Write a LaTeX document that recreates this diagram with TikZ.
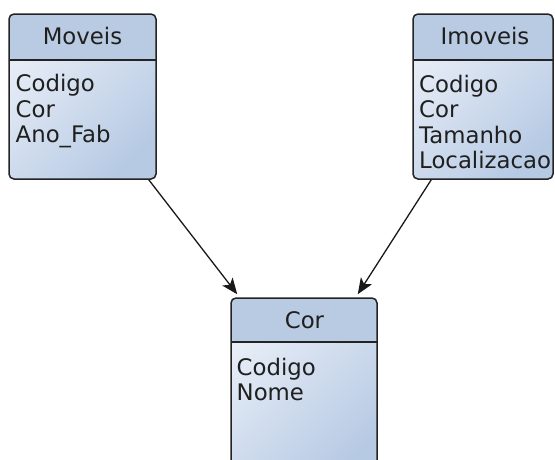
\documentclass[tikz,border=0pt]{standalone}
\usepackage{fontspec}
\setmainfont{DejaVu Sans}
\usetikzlibrary{arrows.meta,calc}

\definecolor{hdrblue}{RGB}{185,203,227}
\definecolor{bodylight}{RGB}{232,238,247}
\definecolor{bodydark}{RGB}{183,202,228}
\definecolor{edge}{RGB}{35,35,35}

\tikzset{
  classbox/.style={
    draw=edge, line width=1.5pt, rounded corners=5pt, inner sep=0pt,
    shading=axis, top color=bodylight, bottom color=bodydark, shading angle=45,
    path picture={
      \fill[hdrblue] (path picture bounding box.north west)
        rectangle ($(path picture bounding box.north east)+(0pt,-#1)$);
      \draw[edge, line width=1.5pt]
        ($(path picture bounding box.north west)+(0pt,-#1)$)
        -- ($(path picture bounding box.north east)+(0pt,-#1)$);
    }
  },
  classname/.style={anchor=base, inner sep=0pt, text=black!88},
  attr/.style={anchor=base west, inner sep=0pt, text=black!88},
  assoc/.style={draw=black!90, line width=1.3pt, -{Stealth[length=16pt, width=13pt, inset=4pt]}}
}

\begin{document}
\begin{tikzpicture}[x=1pt, y=-1pt, font=\fontsize{22.8}{25}\selectfont]
  \useasboundingbox (0,0) rectangle (555,459);
  \clip (0,0) rectangle (555,459);

  % class boxes
  \node[classbox=46pt, minimum width=147pt, minimum height=165pt] (moveis) at (82.5,96.5) {};
  \node[classbox=46pt, minimum width=140pt, minimum height=165pt] (imoveis) at (483,96.5) {};
  \node[classbox=44pt, minimum width=146pt, minimum height=182pt] (cor) at (304,389) {};

  % Moveis
  \node[classname] (moveis-name) at (82.5,44.5) {Moveis};
  \node[attr] (moveis-a1) at (15.5,91.5) {Codigo};
  \node[attr] (moveis-a2) at (15.5,117) {Cor};
  \node[attr] (moveis-a3) at (15.5,142.5) {Ano\_Fab};

  % Imoveis
  \node[classname] (imoveis-name) at (485,44.5) {Imoveis};
  \node[attr] (imoveis-a1) at (419,92) {Codigo};
  \node[attr] (imoveis-a2) at (419,117.5) {Cor};
  \node[attr] (imoveis-a3) at (419,143) {Tamanho};
  \node[attr] (imoveis-a4) at (419,168.5) {Localizacao};

  % Cor
  \node[classname] (cor-name) at (304.5,328.5) {Cor};
  \node[attr] (cor-a1) at (236.5,375) {Codigo};
  \node[attr] (cor-a2) at (236.5,400) {Nome};

  % associations
  \draw[assoc] ([xshift=-8pt]moveis.south east) -- ([xshift=7pt,yshift=3pt]cor.north west);
  \draw[assoc] ([xshift=19pt]imoveis.south west) -- ([xshift=-20pt,yshift=3pt]cor.north east);
\end{tikzpicture}
\end{document}
